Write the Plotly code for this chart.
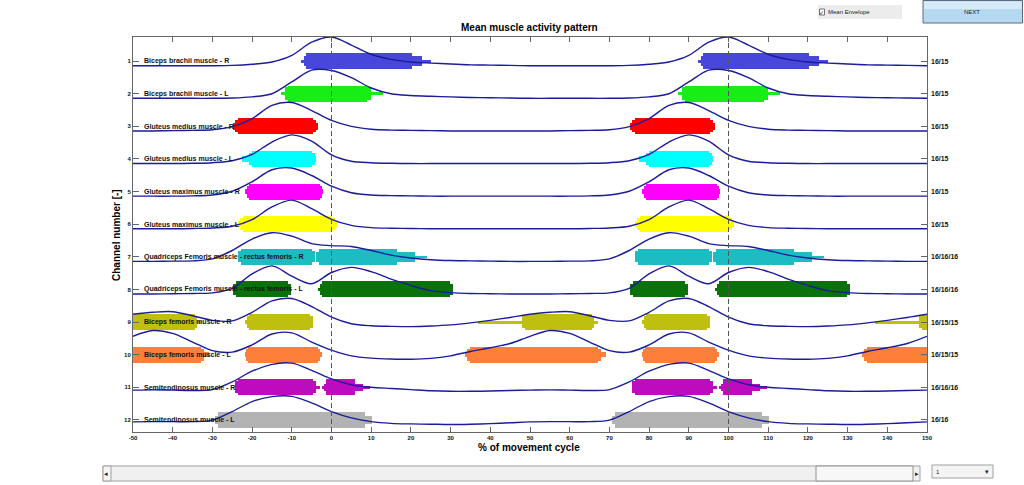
import plotly.graph_objects as go

# ---------------- data ----------------
CHANNELS = [1, 2, 3, 4, 5, 6, 7, 8, 9, 10, 11, 12]
MUSCLES = [
    "Biceps brachii muscle - R", "Biceps brachii muscle - L",
    "Gluteus medius muscle - R", "Gluteus medius muscle - L",
    "Gluteus maximus muscle - R", "Gluteus maximus muscle - L",
    "Quadriceps Femoris muscle - rectus femoris - R",
    "Quadriceps Femoris muscle - rectus femoris - L",
    "Biceps femoris muscle - R", "Biceps femoris muscle - L",
    "Semitendinosus muscle - R", "Semitendinosus muscle - L",
]
CYCLE_COUNTS = ["16/15", "16/15", "16/15", "16/15", "16/15", "16/15",
                "16/16/16", "16/16/16", "16/15/15", "16/15/15", "16/16/16", "16/16"]
X_TICKS = [-50, -40, -30, -20, -10, 0, 10, 20, 30, 40, 50, 60, 70, 80, 90, 100,
           110, 120, 130, 140, 150]

# mean envelope over one movement cycle (normalised), sampled every 5 %
ENV_PCT = [0, 5, 10, 15, 20, 25, 30, 35, 40, 45, 50, 55, 60, 65, 70, 75, 80, 85, 90, 95]
ENV_CH1 = [1.00, 0.72, 0.40, 0.22, 0.13, 0.09, 0.06, 0.03, 0.02, 0.01, 0.00, 0.00, 0.00, 0.00, 0.00, 0.01, 0.05, 0.13, 0.36, 0.82]
ENV_CH2 = [0.97, 0.72, 0.36, 0.16, 0.10, 0.07, 0.05, 0.03, 0.02, 0.01, 0.00, 0.00, 0.00, 0.00, 0.00, 0.01, 0.05, 0.16, 0.57, 0.98]
ENV_CH3 = [0.37, 0.16, 0.06, 0.03, 0.02, 0.01, 0.00, 0.00, 0.00, 0.00, 0.00, 0.00, 0.01, 0.02, 0.04, 0.15, 0.43, 0.89, 0.99, 0.71]
ENV_CH4 = [0.30, 0.08, 0.03, 0.01, 0.00, 0.00, 0.00, 0.00, 0.00, 0.00, 0.00, 0.00, 0.00, 0.01, 0.03, 0.10, 0.32, 0.75, 1.00, 0.78]
ENV_CH5 = [0.35, 0.12, 0.04, 0.02, 0.01, 0.00, 0.00, 0.00, 0.00, 0.00, 0.00, 0.00, 0.00, 0.01, 0.04, 0.17, 0.50, 0.92, 0.98, 0.72]
ENV_CH6 = [0.33, 0.12, 0.04, 0.02, 0.01, 0.00, 0.00, 0.00, 0.00, 0.00, 0.00, 0.00, 0.00, 0.01, 0.03, 0.09, 0.32, 0.76, 1.00, 0.70]
ENV_CH7 = [0.55, 0.52, 0.38, 0.22, 0.12, 0.06, 0.03, 0.02, 0.01, 0.00, 0.00, 0.00, 0.01, 0.02, 0.09, 0.38, 0.78, 1.00, 0.88, 0.62]
ENV_CH8 = [0.75, 0.93, 0.78, 0.52, 0.30, 0.12, 0.05, 0.02, 0.01, 0.00, 0.00, 0.00, 0.01, 0.02, 0.04, 0.20, 0.70, 0.98, 0.62, 0.36]
ENV_CH9 = [0.33, 0.10, 0.03, 0.01, 0.00, 0.02, 0.06, 0.13, 0.22, 0.32, 0.43, 0.50, 0.52, 0.38, 0.22, 0.20, 0.50, 0.90, 0.98, 0.70]
ENV_CH10 = [0.32, 0.12, 0.04, 0.01, 0.00, 0.03, 0.12, 0.27, 0.40, 0.55, 0.80, 1.00, 0.90, 0.60, 0.30, 0.25, 0.50, 0.88, 0.92, 0.60]
ENV_CH11 = [0.45, 0.25, 0.16, 0.12, 0.08, 0.04, 0.02, 0.02, 0.03, 0.05, 0.06, 0.07, 0.06, 0.05, 0.08, 0.35, 0.72, 0.96, 1.00, 0.75]
ENV_CH12 = [0.45, 0.23, 0.10, 0.04, 0.02, 0.01, 0.00, 0.01, 0.03, 0.06, 0.09, 0.10, 0.10, 0.10, 0.15, 0.45, 0.80, 0.97, 0.98, 0.75]
ENVELOPES = [ENV_CH1, ENV_CH2, ENV_CH3, ENV_CH4, ENV_CH5, ENV_CH6,
             ENV_CH7, ENV_CH8, ENV_CH9, ENV_CH10, ENV_CH11, ENV_CH12]

# activation intervals within one cycle (% of cycle) and fraction of repetitions active
BAR_CHANNEL = [1, 1, 1,
               2, 2, 2,
               3, 3, 3,
               4, 4, 4,
               5, 5, 5,
               6, 6, 6,
               7, 7, 7, 7, 7,
               8, 8, 8, 8, 8,
               9, 9, 9, 9, 9, 9,
               10, 10, 10, 10, 10, 10,
               11, 11, 11, 11, 11, 11,
               12, 12]
BAR_START = [-6.5, -7.0, -7.7,
             -10.9, -11.8, -12.6,
             -23.5, -24.3, -24.8,
             -20.1, -20.8, -22.5,
             -20.7, -21.2, -21.8,
             -22.2, -23.0, -23.5,
             -22.7, -23.5, -3.1, -3.8, -3.8,
             -24.0, -24.8, -2.3, -2.9, -3.4,
             48.7, 48.0, 37.0, -20.7, -21.2, -21.8,
             34.9, 34.2, 33.6, -21.0, -21.5, -21.8,
             -23.6, -24.4, -24.4, -1.3, -1.9, -2.4,
             -28.6, -29.4]
BAR_END = [20.2, 22.7, 25.0,
           9.0, 10.0, 13.0,
           -4.6, -3.9, -3.4,
           -4.9, -4.2, -3.8,
           -3.0, -2.4, -2.1,
           0.1, 0.8, 1.4,
           -5.0, -4.2, 16.4, 21.0, 24.0,
           -11.0, -10.1, 29.9, 30.7, 30.7,
           65.6, 66.0, 67.2, -5.4, -4.7, -4.7,
           67.2, 68.0, 69.1, -3.5, -2.9, -2.5,
           -4.6, -3.8, -3.0, 5.9, 8.0, 9.7,
           8.4, 10.1]
BAR_FRACTION = [1.0, 0.6, 0.2,
                1.0, 0.8, 0.2,
                1.0, 0.75, 0.4,
                1.0, 0.75, 0.35,
                1.0, 0.75, 0.3,
                1.0, 0.75, 0.35,
                1.0, 0.7, 1.0, 0.6, 0.15,
                1.0, 0.7, 1.0, 0.7, 0.2,
                1.0, 0.7, 0.18, 1.0, 0.7, 0.2,
                1.0, 0.75, 0.3, 1.0, 0.75, 0.3,
                1.0, 0.75, 0.2, 1.0, 0.45, 0.2,
                1.0, 0.55]

# ---------------- style ----------------
BAR_COLORS = ["#4747db", "#16ee16", "#ff0000", "#00ffff", "#ff00ff", "#ffff00",
              "#1cbcc2", "#0b720b", "#bfbf10", "#fd7f3a", "#bd0bbd", "#b3b3b3"]
CURVE_COLOR = "#1b1b9b"
X_MIN, X_MAX, CYCLE = -50, 150, 100
Y_RANGE = [12.37, 0.26]
BAR_FULL = 0.49
ENV_BASE, ENV_AMP = 0.14, 0.88
FONT = "Liberation Sans, Arial, sans-serif"
W, H = 1024, 485
ML, MR, MT, MB = 133, 97, 37, 53
PW, PH = W - ML - MR, H - MT - MB


def px2x(px):
    return (px - ML) / PW


def py2y(py):
    return (H - MB - py) / PH


fig = go.Figure()

# activation bars (repeated every cycle, clipped to visible range)
for ci, ch in enumerate(CHANNELS):
    ys, bases, lens, widths = [], [], [], []
    for c, s, e, f in zip(BAR_CHANNEL, BAR_START, BAR_END, BAR_FRACTION):
        if c != ch:
            continue
        for shift in (-CYCLE, 0, CYCLE):
            a, b = max(s + shift, X_MIN), min(e + shift, X_MAX)
            if b > a:
                ys.append(ch)
                bases.append(a)
                lens.append(b - a)
                widths.append(f * BAR_FULL)
    fig.add_trace(go.Bar(orientation="h", y=ys, x=lens, base=bases, width=widths,
                         marker=dict(color=BAR_COLORS[ci], line=dict(width=0)),
                         opacity=1, showlegend=False, hoverinfo="skip"))

# mean envelopes
for ch, env in zip(CHANNELS, ENVELOPES):
    xs, ys = [], []
    for shift in (-CYCLE, 0, CYCLE):
        for p, v in zip(ENV_PCT, env):
            x = p + shift
            if X_MIN <= x <= X_MAX:
                xs.append(x)
                ys.append(ch + ENV_BASE - ENV_AMP * v)
    fig.add_trace(go.Scatter(x=xs, y=ys, mode="lines",
                             line=dict(color=CURVE_COLOR, width=1.4, shape="spline", smoothing=0.9),
                             showlegend=False, hoverinfo="skip", cliponaxis=True))

ann = []
for ch, name, cnt in zip(CHANNELS, MUSCLES, CYCLE_COUNTS):
    ann.append(dict(x=X_MIN, y=ch, xref="x", yref="y", text=name, showarrow=False,
                    xanchor="left", yanchor="middle", xshift=9,
                    font=dict(family=FONT, size=7, color="#111", weight="bold")))
    ann.append(dict(x=X_MAX, y=ch, xref="x", yref="y", text=cnt, showarrow=False,
                    xanchor="left", yanchor="middle", xshift=2,
                    font=dict(family=FONT, size=7, color="#111", weight="bold")))

ann.append(dict(x=px2x(529), y=py2y(27), xref="paper", yref="paper", showarrow=False,
                text="Mean muscle activity pattern", xanchor="center", yanchor="middle",
                font=dict(family=FONT, size=10, color="#000", weight="bold")))
ann.append(dict(x=px2x(529), y=py2y(447), xref="paper", yref="paper", showarrow=False,
                text="% of movement cycle", xanchor="center", yanchor="middle",
                font=dict(family=FONT, size=10, color="#000", weight="bold")))
ann.append(dict(x=px2x(116), y=py2y(235), xref="paper", yref="paper", showarrow=False,
                text="Channel number [-]", textangle=-90, xanchor="center", yanchor="middle",
                font=dict(family=FONT, size=10, color="#000", weight="bold")))
# GUI widgets text
ann.append(dict(x=px2x(826), y=py2y(12), xref="paper", yref="paper", showarrow=False,
                text="Mean Envelope", xanchor="left", yanchor="middle",
                font=dict(family=FONT, size=6, color="#222")))
ann.append(dict(x=px2x(821.5), y=py2y(12), xref="paper", yref="paper", showarrow=False,
                text="✓", xanchor="center", yanchor="middle",
                font=dict(family="DejaVu Sans", size=6, color="#222")))
ann.append(dict(x=px2x(972), y=py2y(12), xref="paper", yref="paper", showarrow=False,
                text="NEXT", xanchor="center", yanchor="middle",
                font=dict(family=FONT, size=6, color="#223")))
ann.append(dict(x=px2x(106), y=py2y(473.5), xref="paper", yref="paper", showarrow=False,
                text="◂", xanchor="center", yanchor="middle",
                font=dict(family="DejaVu Sans", size=7, color="#222")))
ann.append(dict(x=px2x(917), y=py2y(473.5), xref="paper", yref="paper", showarrow=False,
                text="▸", xanchor="center", yanchor="middle",
                font=dict(family="DejaVu Sans", size=7, color="#222")))
ann.append(dict(x=px2x(934), y=py2y(471.5), xref="paper", yref="paper", showarrow=False,
                text="1", xanchor="left", yanchor="middle",
                font=dict(family=FONT, size=6, color="#222")))
ann.append(dict(x=px2x(987), y=py2y(471.5), xref="paper", yref="paper", showarrow=False,
                text="▾", xanchor="center", yanchor="middle",
                font=dict(family="DejaVu Sans", size=7, color="#222")))


def rect(x0, y0, x1, y1, fill, line=None, lw=1):
    return dict(type="rect", xref="paper", yref="paper",
                x0=px2x(x0), x1=px2x(x1), y0=py2y(y0), y1=py2y(y1),
                fillcolor=fill, line=dict(color=line or fill, width=lw if line else 0),
                layer="above")


shapes = [
    dict(type="line", xref="x", yref="paper", x0=0, x1=0, y0=0, y1=1,
         line=dict(color="#555", width=1, dash="5px,3px"), layer="above"),
    dict(type="line", xref="x", yref="paper", x0=100, x1=100, y0=0, y1=1,
         line=dict(color="#555", width=1, dash="5px,3px"), layer="above"),
    rect(818, 5, 902, 19, "#ececec"),
    rect(819.5, 9, 824.5, 15, "#ffffff", "#555", 0.8),
    rect(923, 0.5, 1022.5, 23, "#b6d9f2", "#5d6a7c", 1),
    rect(924, 1.5, 1021.5, 9, "#d6eaf8"),
    rect(103, 466, 920, 481, "#f0f0f0", "#a0a0a0", 1),
    rect(103, 466, 111, 481, "#f4f4f4", "#a0a0a0", 1),
    rect(816, 466, 913, 481, "#f7f7f7", "#909090", 1),
    rect(932, 465, 993, 478, "#f4f4f4", "#a0a0a0", 1),
]

fig.update_layout(
    width=W, height=H,
    margin=dict(l=ML, r=MR, t=MT, b=MB, pad=0),
    paper_bgcolor="white", plot_bgcolor="white",
    barmode="overlay", bargap=0,
    showlegend=False,
    annotations=ann, shapes=shapes,
    xaxis=dict(range=[X_MIN, X_MAX], tickvals=X_TICKS, ticktext=[str(t) for t in X_TICKS],
               ticks="inside", ticklen=5, tickcolor="#666", showline=True, linecolor="#666",
               linewidth=1, mirror="ticks", showgrid=False, zeroline=False,
               tickfont=dict(family=FONT, size=6, color="#111", weight="bold")),
    yaxis=dict(range=Y_RANGE, tickvals=CHANNELS, ticktext=[str(c) for c in CHANNELS],
               ticks="inside", ticklen=6, tickcolor="#666", showline=True, linecolor="#666",
               linewidth=1, mirror="ticks", showgrid=False, zeroline=False,
               tickfont=dict(family=FONT, size=6, color="#111", weight="bold")),
)

fig.write_html("out.html")
